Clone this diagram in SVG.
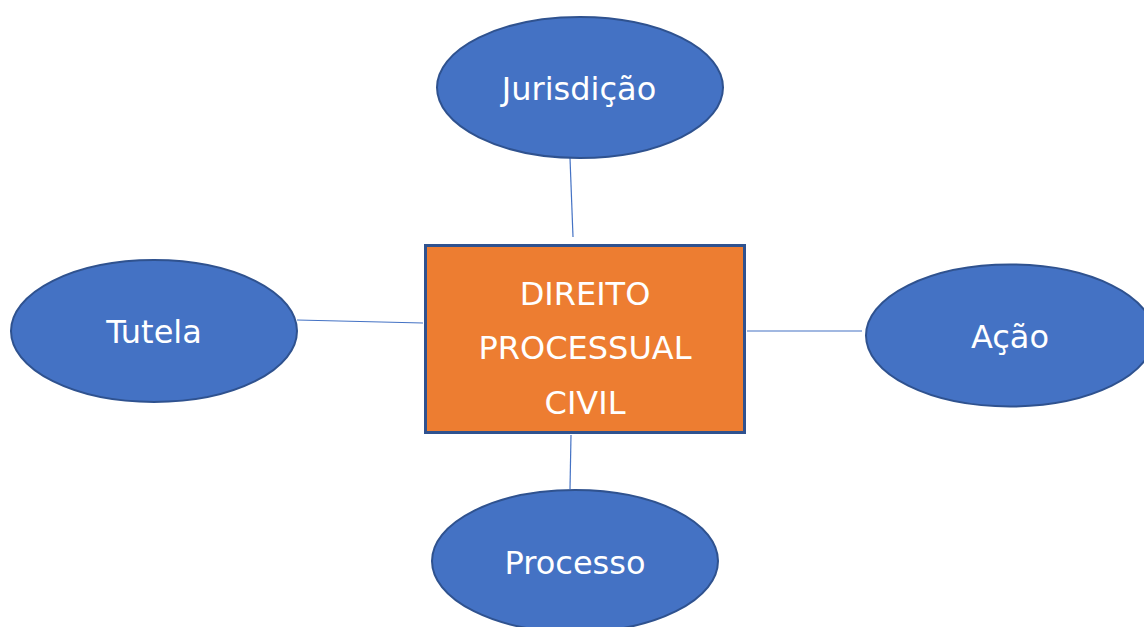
<svg xmlns="http://www.w3.org/2000/svg" width="1144" height="627" viewBox="0 0 1144 627">
<style>
.node{fill:#4472C4;stroke:#2F528F;stroke-width:2}
.box{fill:#ED7D31;stroke:#2F528F;stroke-width:3}
.lbl{font-family:"DejaVu Sans","Noto Sans",sans-serif;font-size:32px;fill:#FFFFFF;text-anchor:middle}
.conn line{stroke:#4472C4;stroke-width:1.2}
</style>
<rect width="1144" height="627" fill="#FFFFFF"/>
<g id="connectors" class="conn">
<line x1="570" y1="158" x2="573" y2="237"/>
<line x1="297" y1="320" x2="423" y2="323"/>
<line x1="747" y1="331" x2="862" y2="331"/>
<line x1="571" y1="435" x2="570" y2="489"/>
</g>
<g id="center">
<rect class="box" x="425.5" y="245.5" width="319" height="187"/>
<text class="lbl" x="585" y="305">DIREITO</text>
<text class="lbl" x="585" y="359">PROCESSUAL</text>
<text class="lbl" x="585" y="414">CIVIL</text>
</g>
<g id="jurisdicao">
<ellipse class="node" cx="580" cy="87.5" rx="143" ry="70.5"/>
<text class="lbl" x="579" y="100">Jurisdição</text>
</g>
<g id="tutela">
<ellipse class="node" cx="154" cy="331" rx="143" ry="71"/>
<text class="lbl" x="154" y="343">Tutela</text>
</g>
<g id="acao">
<ellipse class="node" cx="1010" cy="335.5" rx="144" ry="71"/>
<text class="lbl" x="1010" y="348">Ação</text>
</g>
<g id="processo">
<ellipse class="node" cx="575" cy="561" rx="143" ry="71"/>
<text class="lbl" x="575" y="574">Processo</text>
</g>
</svg>
